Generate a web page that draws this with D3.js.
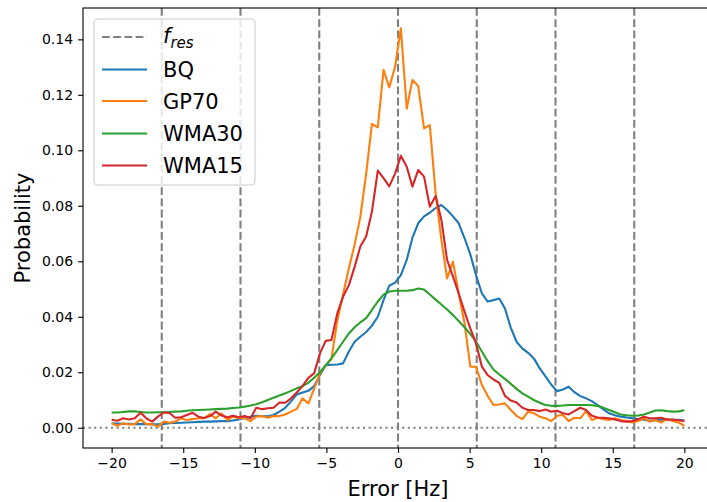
<!DOCTYPE html>
<html>
<head>
<meta charset="utf-8">
<script src="https://cdn.jsdelivr.net/npm/d3@7"></script>
<style>
  body { margin: 0; background: #fff; }
  svg { display: block; font-family: "DejaVu Sans", sans-serif; }
</style>
</head>
<body>
<div class="chart"></div>
<script>
// bin centres of the error histogram (Hz)
const xValues = [
  -20.00, -19.60, -19.19, -18.79, -18.38, -17.98, -17.58, -17.17, -16.77, -16.36,
  -15.96, -15.56, -15.15, -14.75, -14.34, -13.94, -13.54, -13.13, -12.73, -12.32,
  -11.92, -11.52, -11.11, -10.71, -10.30, -9.90, -9.49, -9.09, -8.69, -8.28,
  -7.88, -7.47, -7.07, -6.67, -6.26, -5.86, -5.45, -5.05, -4.65, -4.24,
  -3.84, -3.43, -3.03, -2.63, -2.22, -1.82, -1.41, -1.01, -0.61, -0.20,
  0.20, 0.61, 1.01, 1.41, 1.82, 2.22, 2.63, 3.03, 3.43, 3.84,
  4.24, 4.65, 5.05, 5.45, 5.86, 6.26, 6.67, 7.07, 7.47, 7.88,
  8.28, 8.69, 9.09, 9.49, 9.90, 10.30, 10.71, 11.11, 11.52, 11.92,
  12.32, 12.73, 13.13, 13.54, 13.94, 14.34, 14.75, 15.15, 15.56, 15.96,
  16.36, 16.77, 17.17, 17.58, 17.98, 18.38, 18.79, 19.19, 19.60, 20.00
];

const bq = [
  0.0016, 0.0015, 0.0014, 0.0014, 0.0013, 0.0013, 0.0013, 0.0012, 0.0012, 0.0014,
  0.0016, 0.0017, 0.0018, 0.0019, 0.0020, 0.0021, 0.0022, 0.0022, 0.0023, 0.0024,
  0.0024, 0.0026, 0.0030, 0.0035, 0.0040, 0.0043, 0.0042, 0.0041, 0.0046, 0.0058,
  0.0072, 0.0095, 0.0120, 0.0127, 0.0133, 0.0150, 0.0190, 0.0225, 0.0227, 0.0228,
  0.0232, 0.0275, 0.0310, 0.0328, 0.0345, 0.0368, 0.0400, 0.0460, 0.0512, 0.0523,
  0.0550, 0.0605, 0.0685, 0.0737, 0.0762, 0.0775, 0.0792, 0.0803, 0.0785, 0.0762,
  0.0737, 0.0683, 0.0625, 0.0550, 0.0484, 0.0455, 0.0460, 0.0466, 0.0430, 0.0360,
  0.0310, 0.0285, 0.0270, 0.0250, 0.0214, 0.0185, 0.0155, 0.0132, 0.0138, 0.0148,
  0.0128, 0.0114, 0.0106, 0.0096, 0.0082, 0.0066, 0.0052, 0.0045, 0.0040, 0.0037,
  0.0034, 0.0031, 0.0029, 0.0025, 0.0027, 0.0029, 0.0029, 0.0028, 0.0029, 0.0026
];

const gp70 = [
  0.0016, 0.0007, 0.0016, 0.0012, 0.0013, 0.0030, 0.0013, 0.0013, 0.0004, 0.0022,
  0.0018, 0.0022, 0.0034, 0.0028, 0.0031, 0.0034, 0.0034, 0.0049, 0.0034, 0.0052,
  0.0028, 0.0040, 0.0034, 0.0034, 0.0024, 0.0040, 0.0042, 0.0036, 0.0042, 0.0042,
  0.0048, 0.0058, 0.0068, 0.0106, 0.0088, 0.0140, 0.0196, 0.0225, 0.0248, 0.0385,
  0.0480, 0.0575, 0.0660, 0.0760, 0.0917, 0.1095, 0.1083, 0.1290, 0.1227, 0.1302,
  0.1440, 0.1150, 0.1254, 0.1232, 0.1079, 0.1091, 0.0845, 0.0677, 0.0538, 0.0599,
  0.0484, 0.0376, 0.0220, 0.0220, 0.0154, 0.0115, 0.0082, 0.0084, 0.0088, 0.0064,
  0.0043, 0.0031, 0.0058, 0.0052, 0.0040, 0.0034, 0.0024, 0.0043, 0.0046, 0.0024,
  0.0036, 0.0034, 0.0060, 0.0028, 0.0036, 0.0031, 0.0028, 0.0034, 0.0028, 0.0024,
  0.0019, 0.0024, 0.0034, 0.0022, 0.0028, 0.0019, 0.0031, 0.0024, 0.0019, 0.0007
];

const wma30 = [
  0.0055, 0.0055, 0.0057, 0.0059, 0.0059, 0.0057, 0.0055, 0.0055, 0.0056, 0.0056,
  0.0057, 0.0058, 0.0059, 0.0061, 0.0063, 0.0064, 0.0065, 0.0066, 0.0067, 0.0068,
  0.0069, 0.0071, 0.0073, 0.0076, 0.0080, 0.0085, 0.0092, 0.0100, 0.0108, 0.0116,
  0.0124, 0.0133, 0.0142, 0.0150, 0.0162, 0.0180, 0.0200, 0.0225, 0.0250, 0.0280,
  0.0310, 0.0340, 0.0362, 0.0380, 0.0395, 0.0425, 0.0455, 0.0480, 0.0491, 0.0494,
  0.0494, 0.0494, 0.0496, 0.0502, 0.0498, 0.0480, 0.0462, 0.0444, 0.0426, 0.0406,
  0.0385, 0.0362, 0.0338, 0.0310, 0.0275, 0.0240, 0.0210, 0.0192, 0.0176, 0.0158,
  0.0140, 0.0124, 0.0112, 0.0100, 0.0090, 0.0082, 0.0079, 0.0079, 0.0080, 0.0082,
  0.0082, 0.0082, 0.0082, 0.0081, 0.0079, 0.0072, 0.0064, 0.0056, 0.0048, 0.0045,
  0.0043, 0.0044, 0.0048, 0.0055, 0.0062, 0.0063, 0.0060, 0.0058, 0.0059, 0.0063
];

const wma15 = [
  0.0029, 0.0025, 0.0034, 0.0030, 0.0034, 0.0054, 0.0034, 0.0022, 0.0040, 0.0055,
  0.0053, 0.0036, 0.0038, 0.0046, 0.0054, 0.0040, 0.0035, 0.0042, 0.0058, 0.0044,
  0.0038, 0.0043, 0.0038, 0.0042, 0.0034, 0.0072, 0.0067, 0.0070, 0.0072, 0.0091,
  0.0090, 0.0106, 0.0127, 0.0150, 0.0180, 0.0196, 0.0268, 0.0313, 0.0316, 0.0412,
  0.0472, 0.0514, 0.0580, 0.0653, 0.0690, 0.0779, 0.0927, 0.0900, 0.0870, 0.0917,
  0.0980, 0.0941, 0.0869, 0.0929, 0.0905, 0.0797, 0.0835, 0.0749, 0.0605, 0.0545,
  0.0484, 0.0418, 0.0358, 0.0304, 0.0220, 0.0190, 0.0174, 0.0162, 0.0115, 0.0098,
  0.0091, 0.0072, 0.0064, 0.0064, 0.0060, 0.0066, 0.0058, 0.0061, 0.0052, 0.0048,
  0.0060, 0.0072, 0.0064, 0.0043, 0.0037, 0.0036, 0.0034, 0.0030, 0.0024, 0.0022,
  0.0024, 0.0031, 0.0040, 0.0034, 0.0034, 0.0036, 0.0030, 0.0030, 0.0027, 0.0024
];

// resolution frequency marks (Hz)
const resLines = [-16.5, -11, -5.5, 0, 5.5, 11, 16.5];

const xTicks = [-20, -15, -10, -5, 0, 5, 10, 15, 20];
const yTicks = [0, 0.02, 0.04, 0.06, 0.08, 0.10, 0.12, 0.14];

const seriesNames = ["BQ", "GP70", "WMA30", "WMA15"];
const seriesColors = ["#1f77b4", "#ff7f0e", "#2ca02c", "#d62728"];
const seriesValues = [bq, gp70, wma30, wma15];

// figure size and axes box
const W = 707, H = 502;
const margin = { top: 8, left: 83, right: 713, bottom: 448 };

const svg = d3
  .select(".chart")
  .append("svg")
  .attr("width", W)
  .attr("height", H);

svg.append("rect").attr("width", W).attr("height", H).attr("fill", "#fff");

const x = d3.scaleLinear().domain([-22, 22]).range([margin.left, margin.right]);
const y = d3.scaleLinear().domain([-0.0073, 0.1513]).range([margin.bottom, margin.top]);

svg
  .append("clipPath")
  .attr("id", "plot-clip")
  .append("rect")
  .attr("x", margin.left)
  .attr("y", margin.top)
  .attr("width", margin.right - margin.left)
  .attr("height", margin.bottom - margin.top);

const plot = svg.append("g").attr("clip-path", "url(#plot-clip)");

// vertical dashed f_res lines
plot
  .selectAll(".res")
  .data(resLines)
  .enter()
  .append("line")
  .attr("class", "res")
  .attr("x1", (d) => x(d))
  .attr("x2", (d) => x(d))
  .attr("y1", margin.top)
  .attr("y2", margin.bottom)
  .attr("stroke", "#808080")
  .attr("stroke-width", 2.1)
  .attr("stroke-dasharray", "7.8,3.4");

// dotted zero line
plot
  .append("line")
  .attr("x1", margin.left)
  .attr("x2", margin.right)
  .attr("y1", y(0))
  .attr("y2", y(0))
  .attr("stroke", "#808080")
  .attr("stroke-width", 2.1)
  .attr("stroke-dasharray", "2.1,3.5");

const line = d3
  .line()
  .x((d, i) => x(xValues[i]))
  .y((d) => y(d));

seriesValues.forEach(function (vals, k) {
  plot
    .append("path")
    .datum(vals)
    .attr("fill", "none")
    .attr("stroke", seriesColors[k])
    .attr("stroke-width", 2.1)
    .attr("stroke-linejoin", "round")
    .attr("d", line);
});

// axes
const xAxis = svg
  .append("g")
  .attr("transform", `translate(0, ${margin.bottom})`)
  .call(
    d3.axisBottom(x).tickValues(xTicks).tickSize(4.9).tickSizeOuter(0).tickPadding(5).tickFormat(d3.format("d"))
  );

const yAxis = svg
  .append("g")
  .attr("transform", `translate(${margin.left}, 0)`)
  .call(
    d3.axisLeft(y).tickValues(yTicks).tickSize(4.9).tickSizeOuter(0).tickPadding(5).tickFormat(d3.format(".2f"))
  );

[xAxis, yAxis].forEach(function (a) {
  a.select(".domain").remove();
  a.selectAll(".tick line").attr("stroke", "#000").attr("stroke-width", 1.1);
  a.selectAll(".tick text")
    .attr("fill", "#000")
    .style("font-family", "DejaVu Sans")
    .style("font-size", "14px");
});

// spines
svg
  .append("rect")
  .attr("x", margin.left)
  .attr("y", margin.top)
  .attr("width", margin.right - margin.left)
  .attr("height", margin.bottom - margin.top)
  .attr("fill", "none")
  .attr("stroke", "#000")
  .attr("stroke-width", 1.1);

// axis titles
svg
  .append("text")
  .attr("x", x(0))
  .attr("y", 496)
  .attr("text-anchor", "middle")
  .style("font-size", "21px")
  .text("Error [Hz]");

svg
  .append("text")
  .attr("transform", `translate(30, ${(margin.top + margin.bottom) / 2}) rotate(-90)`)
  .attr("text-anchor", "middle")
  .style("font-size", "21px")
  .text("Probability");

// legend
const legend = svg.append("g").attr("class", "legend");

legend
  .append("rect")
  .attr("x", 94)
  .attr("y", 19)
  .attr("width", 161)
  .attr("height", 166)
  .attr("rx", 4)
  .attr("fill", "#fff")
  .attr("fill-opacity", 0.8)
  .attr("stroke", "#cccccc")
  .attr("stroke-width", 1.1);

const rowsY = [37, 69.5, 101, 133.5, 165.5];

legend
  .append("line")
  .attr("x1", 102)
  .attr("x2", 147)
  .attr("y1", rowsY[0])
  .attr("y2", rowsY[0])
  .attr("stroke", "#808080")
  .attr("stroke-width", 2.1)
  .attr("stroke-dasharray", "7.8,3.4");

const fres = legend
  .append("text")
  .attr("x", 163)
  .attr("y", 43)
  .style("font-size", "21px")
  .style("font-style", "italic");
fres.append("tspan").text("f");
fres.append("tspan").attr("dy", 5).style("font-size", "15px").text("res");

seriesNames.forEach(function (name, k) {
  legend
    .append("line")
    .attr("x1", 102)
    .attr("x2", 147)
    .attr("y1", rowsY[k + 1])
    .attr("y2", rowsY[k + 1])
    .attr("stroke", seriesColors[k])
    .attr("stroke-width", 2.1);
  legend
    .append("text")
    .attr("x", 163)
    .attr("y", rowsY[k + 1] + 7.7)
    .style("font-size", "21px")
    .text(name);
});
</script>
</body>
</html>
